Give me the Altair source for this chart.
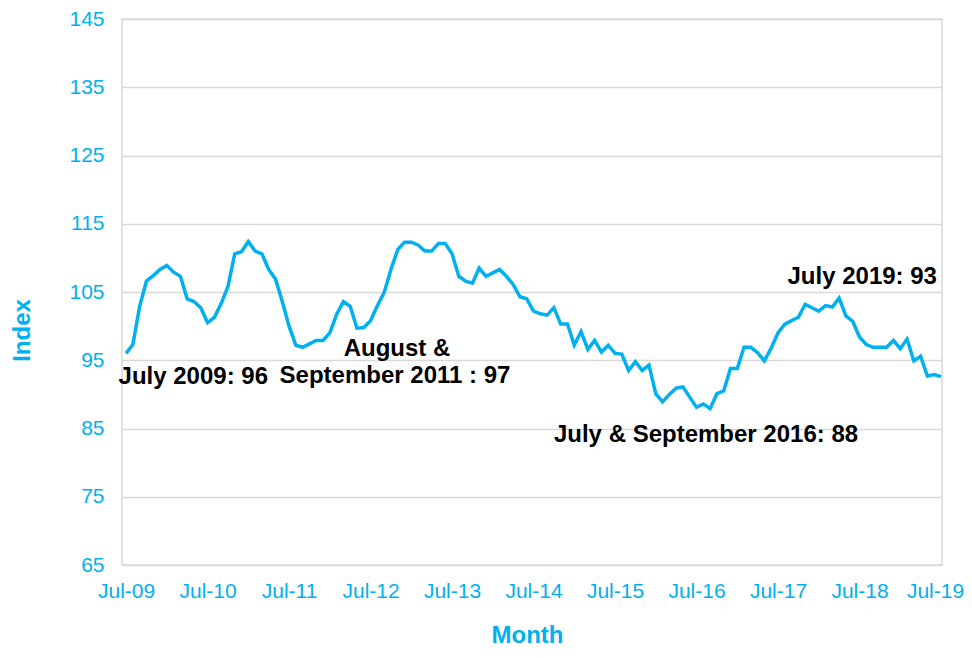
import json
import altair as alt
import pandas as pd

# Monthly index values, Jul-09 .. Jul-19
values = [
    96.0, 97.3, 102.9, 106.6, 107.4, 108.3, 108.9, 107.9, 107.3, 104.0, 103.6, 102.7,
    100.5, 101.3, 103.3, 105.8, 110.6, 110.9, 112.4, 111.0, 110.6, 108.3, 106.9, 103.6,
    100.0, 97.2, 96.9, 97.4, 97.9, 97.9, 99.0, 101.7, 103.6, 102.9, 99.7, 99.8,
    100.8, 103.0, 104.9, 108.3, 111.2, 112.3, 112.3, 111.9, 111.0, 111.0, 112.1, 112.1,
    110.6, 107.3, 106.6, 106.3, 108.5, 107.3, 107.8, 108.3, 107.3, 106.1, 104.3, 104.0,
    102.2, 101.8, 101.6, 102.7, 100.3, 100.3, 97.2, 99.2, 96.6, 97.9, 96.2, 97.2,
    96.0, 95.9, 93.5, 94.8, 93.5, 94.3, 90.1, 88.9, 90.0, 90.9, 91.1, 89.6,
    88.1, 88.6, 87.9, 90.1, 90.5, 93.8, 93.8, 96.9, 96.9, 96.1, 94.9, 96.8,
    99.0, 100.3, 100.8, 101.3, 103.2, 102.7, 102.2, 103.0, 102.8, 104.1, 101.5, 100.7,
    98.4, 97.3, 96.9, 96.9, 96.9, 97.9, 96.7, 98.1, 94.9, 95.6, 92.7, 92.9,
    92.6,
]

tick_labels = ["Jul-09", "Jul-10", "Jul-11", "Jul-12", "Jul-13", "Jul-14",
               "Jul-15", "Jul-16", "Jul-17", "Jul-18", "Jul-19"]
tick_pos = [12 * i for i in range(len(tick_labels))]
y_ticks = [65, 75, 85, 95, 105, 115, 125, 135, 145]

ann_text = ["July 2009: 96", "August &", "September 2011 : 97",
            "July & September 2016: 88", "July 2019: 93"]
ann_x = [9.9, 39.9, 39.6, 85.4, 108.4]
ann_y = [91.5, 95.6, 91.7, 83.0, 106.2]

BLUE = "#00B0F0"
FONT = "Liberation Sans"

df = pd.DataFrame({"m": list(range(len(values))), "v": values})
ann = pd.DataFrame({"m": ann_x, "v": ann_y, "t": ann_text})

label_expr = json.dumps(tick_labels).replace('"', "'") + "[round(datum.value/12)]"

x_enc = alt.X(
    "m:Q",
    scale=alt.Scale(domain=[-0.6, 120.15], nice=False, zero=False),
    axis=alt.Axis(
        values=tick_pos, labelExpr=label_expr, title="Month", grid=False,
        ticks=False, domain=False, labelPadding=15, labelFontSize=21,
        labelColor=BLUE, labelFont=FONT, titleFont=FONT, titleFontSize=24,
        titleFontWeight="bold", titleColor=BLUE, titleX=405, titleY=77,
        titleBaseline="alphabetic", labelOverlap=False,
        labelOffset={"condition": {"test": "datum.value >= 120", "value": -6}, "value": 0},
    ),
)
y_enc = alt.Y(
    "v:Q",
    scale=alt.Scale(domain=[65, 145], nice=False, zero=False),
    axis=alt.Axis(
        values=y_ticks, title="Index", grid=True, gridColor="#D9D9D9",
        gridWidth=1.5, ticks=False, domain=False, labelPadding=18,
        labelFontSize=21, labelColor=BLUE, labelFont=FONT, titleFont=FONT,
        titleFontSize=24, titleFontWeight="bold", titleColor=BLUE,
        titleX=-88, titleY=311,
    ),
)

line = alt.Chart(df).mark_line(color=BLUE, strokeWidth=3.5).encode(x=x_enc, y=y_enc)

text = alt.Chart(ann).mark_text(
    font=FONT, fontWeight="bold", fontSize=24, color="black",
    align="center", baseline="alphabetic",
).encode(x="m:Q", y="v:Q", text="t:N")

chart = alt.layer(line, text).properties(
    width=820, height=546,
    autosize=alt.AutoSizeParams(type="none"),
    padding={"left": 114, "top": 11, "right": 22, "bottom": 84},
).configure_view(stroke="#D9D9D9", strokeWidth=1.5)

chart.save("out.html", embed_options={"renderer": "svg", "actions": False})
